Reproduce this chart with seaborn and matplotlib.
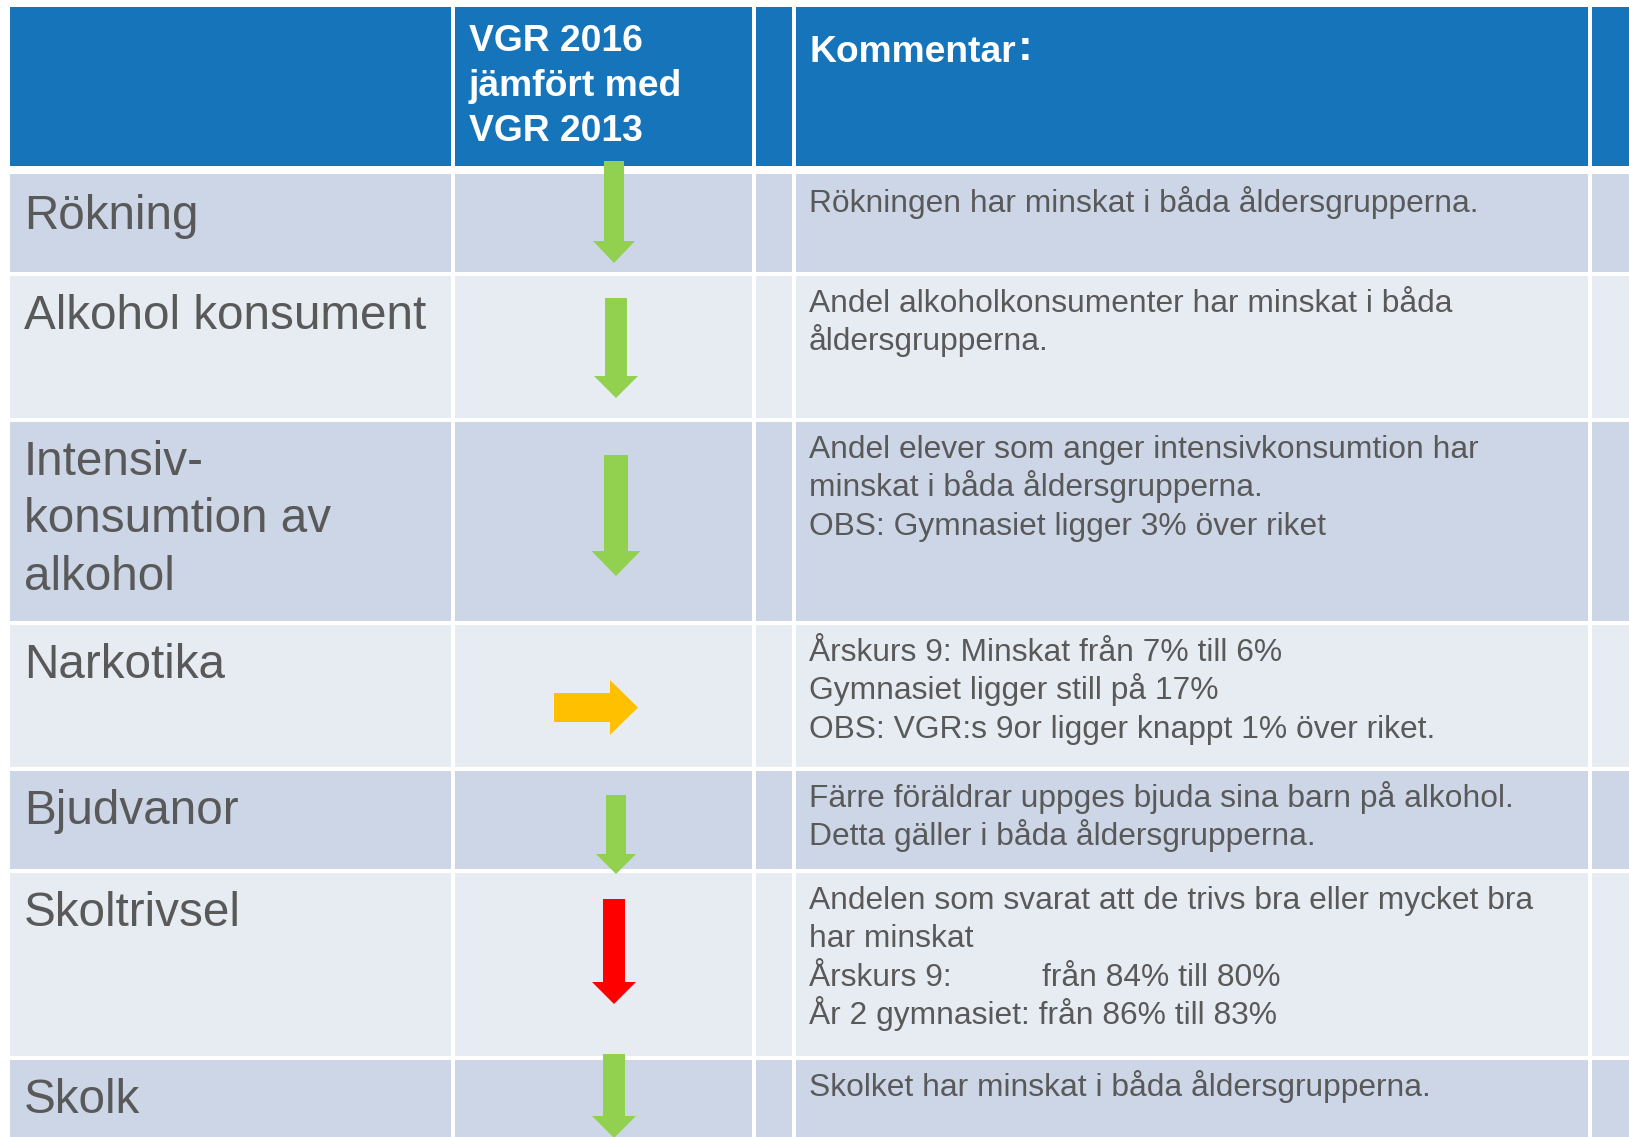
import matplotlib
matplotlib.use("Agg")
import matplotlib.pyplot as plt
from matplotlib.patches import Rectangle, Polygon
import seaborn as sns

# ---------------- data ----------------
header_col1 = ["VGR 2016", "jämfört med", "VGR 2013"]
header_col3 = "Kommentar"
row_labels = [
    ["Rökning"],
    ["Alkohol konsument"],
    ["Intensiv-", "konsumtion av", "alkohol"],
    ["Narkotika"],
    ["Bjudvanor"],
    ["Skoltrivsel"],
    ["Skolk"],
]
comments = [
    ["Rökningen har minskat i båda åldersgrupperna."],
    ["Andel alkoholkonsumenter har minskat i båda", "åldersgrupperna."],
    ["Andel elever som anger intensivkonsumtion har",
     "minskat i båda åldersgrupperna.",
     "OBS: Gymnasiet ligger 3% över riket"],
    ["Årskurs 9: Minskat från 7% till 6%",
     "Gymnasiet ligger still på 17%",
     "OBS: VGR:s 9or ligger knappt 1% över riket."],
    ["Färre föräldrar uppges bjuda sina barn på alkohol.",
     "Detta gäller i båda åldersgrupperna."],
    ["Andelen som svarat att de trivs bra eller mycket bra",
     "har minskat",
     "Årskurs 9:\tfrån 84% till 80%",
     "År 2 gymnasiet: från 86% till 83%"],
    ["Skolket har minskat i båda åldersgrupperna."],
]
trend_direction = ["down", "down", "down", "right", "down", "down", "down"]
trend_rating = ["good", "good", "good", "neutral", "good", "bad", "good"]

# ---------------- layout / style ----------------
W, H = 1629, 1137
sns.set_theme(style="white")
plt.rcParams["font.family"] = ["Liberation Sans", "DejaVu Sans"]

header_blue = "#1574BA"
row_dark = "#CDD6E6"
row_light = "#E7ECF3"
text_gray = "#595959"
rating_colors = {"good": "#92D050", "neutral": "#FFC000", "bad": "#FF0000"}

col_edges = [10, 453, 754, 794, 1590, 1640]
header_top, header_bottom = 7, 166
row_edges = [174, 274, 420, 623, 769, 871, 1058, 1150]
gap = 2.0

# arrow geometry per row: (centre, start, end, shaft width, head width, head length)
arrow_geom = [
    (614, 161, 263, 20, 42, 22),
    (616, 298, 398, 22, 44, 22),
    (616, 455, 576, 24, 49, 25),
    (707.5, 554, 638, 29, 55, 28),
    (616, 795, 874, 20, 40, 20),
    (614, 899, 1004, 22, 44, 22),
    (614, 1054, 1138, 22, 44, 22),
]

fig = plt.figure(figsize=(W / 100, H / 100), dpi=100)
ax = fig.add_axes([0, 0, 1, 1])
ax.set_xlim(0, W)
ax.set_ylim(H, 0)
ax.axis("off")
fig.patch.set_facecolor("white")

# header cells
for c in range(len(col_edges) - 1):
    x0 = col_edges[c] + (gap if c > 0 else 0)
    x1 = col_edges[c + 1] - gap
    ax.add_patch(Rectangle((x0, header_top), x1 - x0, header_bottom - header_top,
                           facecolor=header_blue, edgecolor="none", zorder=1))

# body cells
for r in range(len(row_labels)):
    y0 = row_edges[r] + (0 if r == 0 else gap)
    y1 = row_edges[r + 1] - gap
    fc = row_dark if r % 2 == 0 else row_light
    for c in range(len(col_edges) - 1):
        x0 = col_edges[c] + (gap if c > 0 else 0)
        x1 = col_edges[c + 1] - gap
        ax.add_patch(Rectangle((x0, y0), x1 - x0, y1 - y0,
                               facecolor=fc, edgecolor="none", zorder=1))

# header text
for i, line in enumerate(header_col1):
    ax.text(469, 51 + i * 45, line, color="white", fontsize=26.8,
            fontweight="bold", va="baseline", ha="left", zorder=5)
t = ax.text(810, 62, header_col3, color="white", fontsize=26.8,
            fontweight="bold", va="baseline", ha="left", zorder=5)
fig.canvas.draw()
bb = t.get_window_extent().transformed(ax.transData.inverted())
ax.text(bb.x1 + 1, 60, ":", color="white", fontsize=32,
        fontweight="bold", va="baseline", ha="left", zorder=5)

# row labels and comments
label_ls = 57.5
comment_ls = 38.4
tab_x = 1042
for r in range(len(row_labels)):
    top = row_edges[r]
    for i, line in enumerate(row_labels[r]):
        ax.text(24, top + 55 + i * label_ls, line, color=text_gray, fontsize=34.3,
                va="baseline", ha="left", zorder=5)
    for i, line in enumerate(comments[r]):
        yb = top + 38 + i * comment_ls
        parts = line.split("\t")
        ax.text(809, yb, parts[0], color=text_gray, fontsize=22.9,
                va="baseline", ha="left", zorder=5)
        if len(parts) > 1:
            ax.text(tab_x, yb, parts[1], color=text_gray, fontsize=22.9,
                    va="baseline", ha="left", zorder=5)

# arrows
for r, (d, rating) in enumerate(zip(trend_direction, trend_rating)):
    c, s, e, sw, hw, hl = arrow_geom[r]
    col = rating_colors[rating]
    if d == "down":
        pts = [(c - sw / 2, s), (c + sw / 2, s), (c + sw / 2, e - hl),
               (c + hw / 2, e - hl), (c, e), (c - hw / 2, e - hl),
               (c - sw / 2, e - hl)]
    else:
        pts = [(s, c - sw / 2), (e - hl, c - sw / 2), (e - hl, c - hw / 2),
               (e, c), (e - hl, c + hw / 2), (e - hl, c + sw / 2),
               (s, c + sw / 2)]
    ax.add_patch(Polygon(pts, closed=True, facecolor=col, edgecolor="none", zorder=4))

fig.savefig("out.png", dpi=100, facecolor="white")
